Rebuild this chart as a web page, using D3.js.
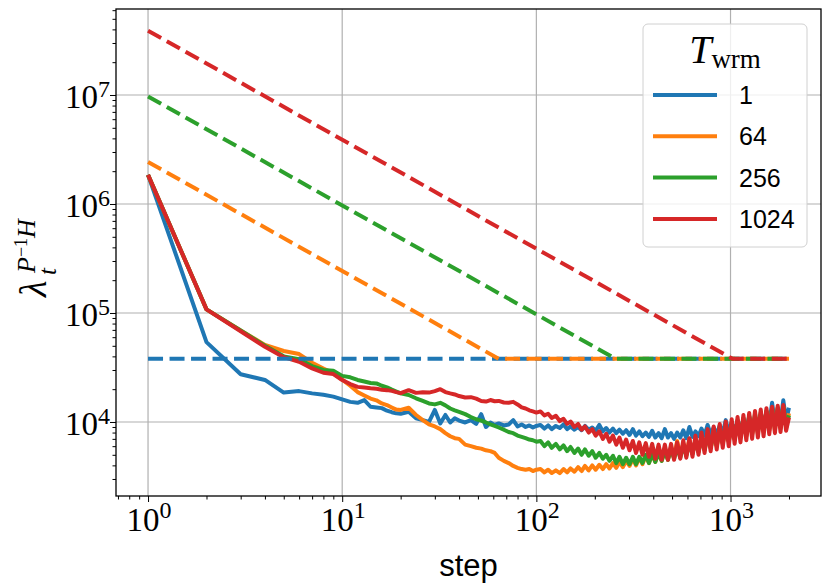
<!DOCTYPE html>
<html>
<head>
<meta charset="utf-8">
<script src="https://cdn.jsdelivr.net/npm/d3@7"></script>
<style>
body { margin: 0; background: #fff; }
</style>
</head>
<body>
<svg id="chart" width="831" height="588"></svg>
<script>
// steps shared by all four runs
var steps = [
  1,2,3,4,5,6,7,8,9,10,
  11,12,13,14,15,16,17,18,19,20,
  22,24,26,28,30,32,34,36,38,40,
  43,46,49,52,55,58,61,64,68,72,
  76,80,84,88,92,96,100,
  105,110,115,120,126,132,138,144,150,157,
  164,171,178,186,194,202,211,220,229,238,
  248,258,268,279,290,302,314,326,339,352,
  366,380,395,410,426,442,459,476,494,512,
  531,551,571,592,614,637,660,684,709,735,
  762,790,819,849,880,912,945,979,1014,1050,
  1087,1125,1165,1206,1248,1292,1337,1383,1431,1480,
  1531,1583,1637,1693,1750,1809,1870,1933,2000
];

var warmups = ["1", "64", "256", "1024"];

var lam_w1 = [
  1850000,54000,27400,24300,18600,19200,18300,17800,17100,16100,
  15300,15000,15900,13800,13600,13400,12700,12300,12000,11900,
  12400,10800,10400,10000,12900,9700,11600,9900,10800,10300,
  9900,10400,9600,11800,9000,9900,9400,9700,9300,9500,
  10400,9100,9500,9000,9300,8900,9200,
  9400,8700,9300,8600,9200,8800,9500,8600,9100,8500,
  9000,8400,9200,8500,8900,8300,9400,8200,8800,8000,
  8700,7900,8500,7800,8400,7600,8600,7500,8200,7400,
  8000,7300,8300,7200,7900,7100,8600,7200,7900,7000,
  8000,7200,8400,7100,9000,7300,8200,7400,8700,7500,
  9400,7700,8900,7700,9300,7900,10400,8100,9800,8200,
  10200,8400,10600,8600,11200,8800,11000,9000,11800,9300,
  12300,9500,15000,9800,12800,10000,15800,10300,13500
];

var lam_w64 = [
  1850000,108000,69000,51000,44800,42000,35000,31000,28000,24500,
  21500,18800,17500,16400,15800,14800,14300,13600,13000,12900,
  13500,11600,10400,9500,9100,8600,7900,7400,7100,7000,
  6200,6000,5800,5700,5500,5400,5200,4700,4400,4200,
  3950,3800,3700,3650,3700,3550,3650,
  3700,3450,3650,3400,3600,3400,3700,3450,3750,3500,
  3850,3550,3950,3600,4000,3650,4050,3700,4100,3750,
  4200,3800,4300,3850,4400,3950,4600,4000,4700,4100,
  4900,4200,5000,4300,5200,4400,5500,4500,5900,4700,
  6700,4900,6300,5000,7000,5200,6500,5400,6900,5600,
  7300,5800,7600,6000,8000,6300,8600,6600,9200,6900,
  9700,7200,10200,7400,10800,7700,11300,7900,11800,8100,
  12500,8300,13000,8500,13400,8700,13800,8900,12000
];

var lam_w256 = [
  1850000,108000,69000,50000,40000,37600,32600,30000,29600,26500,
  25700,24300,23500,22800,22600,21500,20800,19800,19000,18300,
  17700,16500,15600,14800,14500,15000,14200,13300,12800,12400,
  11800,11100,10600,10300,9900,9500,9200,8900,8500,8100,
  7900,7500,7300,7100,6900,6800,6600,
  6700,6000,6500,5800,6300,5600,6100,5400,5900,5200,
  5700,5000,5600,4900,5400,4700,5200,4600,5000,4400,
  4900,4200,4800,4100,4700,4100,4800,4100,4800,4200,
  5000,4200,5100,4300,5200,4400,5400,4500,5600,4600,
  5800,4700,6100,4900,6400,5100,6800,5300,7300,5500,
  7800,5800,8300,6100,8900,6400,9400,6700,9900,7000,
  10400,7300,10900,7600,11400,7900,11800,8200,12300,8400,
  12700,8700,13100,8900,13500,9100,13900,9300,11500
];

var lam_w1024 = [
  1850000,108000,68000,49000,39300,35700,31000,28300,27500,24300,
  22300,21000,20700,20400,20200,19800,19600,19300,18800,18400,
  19600,18500,18700,18600,19200,20000,18800,18300,17900,17300,
  16800,16900,16400,15600,15400,15900,15500,15600,15100,15000,
  15300,14500,13600,13300,12800,12500,12200,
  12500,11500,11900,10900,11400,10200,10700,9600,10100,9000,
  9600,8500,9100,8000,8600,7500,8200,7000,7800,6600,
  7500,6200,7200,5800,6900,5500,6700,5200,6500,5000,
  6400,4800,6300,4600,6200,4500,6200,4500,6300,4500,
  6500,4600,6800,4700,7100,4800,7500,5000,8000,5200,
  8600,5400,9100,5600,9600,5800,10100,6000,10600,6300,
  11100,6500,11600,6800,12100,7000,12600,7200,13000,7400,
  13400,7700,13800,7900,14100,8100,14300,8300,11000
];

// dashed reference lines (one per warmup)
var refSteps = [[1, 2000], [1, 64, 2000], [1, 256, 2000], [1, 1024, 2000]];
var refValues = [
  [38000, 38000],
  [2430000, 38000, 38000],
  [9700000, 38000, 38000],
  [38900000, 38000, 38000]
];

var xTicks = [1, 10, 100, 1000];
var xTickExp = ["0", "1", "2", "3"];
var yTicks = [1e4, 1e5, 1e6, 1e7];
var yTickExp = ["4", "5", "6", "7"];

var colors = ["#1f77b4", "#ff7f0e", "#2ca02c", "#d62728"];
var runs = [lam_w1, lam_w64, lam_w256, lam_w1024];

// LAYOUT
var pL = 116, pR = 821, pT = 9, pB = 496;
var svg = d3.select("#chart");

var x = d3.scaleLog()
  .domain([Math.pow(10, -0.165), Math.pow(10, 3.466)])
  .range([pL, pR]);
var y = d3.scaleLog()
  .domain([Math.pow(10, 3.321), Math.pow(10, 7.789)])
  .range([pB, pT]);

// GRID
svg.append("g").selectAll("line").data(xTicks).enter().append("line")
  .attr("x1", d => x(d)).attr("x2", d => x(d))
  .attr("y1", pT).attr("y2", pB)
  .attr("stroke", "#b0b0b0").attr("stroke-width", 1.2);
svg.append("g").selectAll("line").data(yTicks).enter().append("line")
  .attr("x1", pL).attr("x2", pR)
  .attr("y1", d => y(d)).attr("y2", d => y(d))
  .attr("stroke", "#b0b0b0").attr("stroke-width", 1.2);

// LINES
svg.append("clipPath").attr("id", "clip").append("rect")
  .attr("x", pL).attr("y", pT).attr("width", pR - pL).attr("height", pB - pT);
var plot = svg.append("g").attr("clip-path", "url(#clip)");

var line = d3.line()
  .x(d => x(d[0]))
  .y(d => y(d[1]));

runs.forEach(function (vals, i) {
  plot.append("path")
    .datum(steps.map((s, j) => [s, vals[j]]))
    .attr("fill", "none")
    .attr("stroke", colors[i])
    .attr("stroke-width", 4)
    .attr("stroke-linejoin", "round")
    .attr("d", line);
});

refSteps.forEach(function (st, i) {
  plot.append("path")
    .datum(st.map((s, j) => [s, refValues[i][j]]))
    .attr("fill", "none")
    .attr("stroke", colors[i])
    .attr("stroke-width", 4)
    .attr("stroke-dasharray", "15 6.5")
    .attr("d", line);
});

// AXES
var minorX = x.ticks().filter(d => xTicks.indexOf(d) < 0);
var minorY = y.ticks().filter(d => yTicks.indexOf(d) < 0);

svg.append("g").attr("transform", "translate(0," + pB + ")")
  .call(d3.axisBottom(x).tickValues(minorX).tickSize(3.5).tickFormat(""))
  .call(g => g.select(".domain").remove());
svg.append("g").attr("transform", "translate(0," + pB + ")")
  .call(d3.axisBottom(x).tickValues(xTicks).tickSize(6).tickFormat(""))
  .call(g => g.select(".domain").remove());
svg.append("g").attr("transform", "translate(" + pL + ",0)")
  .call(d3.axisLeft(y).tickValues(minorY).tickSize(3.5).tickFormat(""))
  .call(g => g.select(".domain").remove());
svg.append("g").attr("transform", "translate(" + pL + ",0)")
  .call(d3.axisLeft(y).tickValues(yTicks).tickSize(6).tickFormat(""))
  .call(g => g.select(".domain").remove());
svg.selectAll(".tick line").attr("stroke", "#000").attr("stroke-width", 1);

svg.append("rect")
  .attr("x", pL).attr("y", pT)
  .attr("width", pR - pL).attr("height", pB - pT)
  .attr("fill", "none").attr("stroke", "#000").attr("stroke-width", 1.3);

// tick labels 10^k
xTicks.forEach(function (t, i) {
  var tx = svg.append("text")
    .attr("x", x(t) + 1).attr("y", 531)
    .attr("text-anchor", "middle")
    .attr("font-family", "Liberation Serif, serif")
    .attr("font-size", 33)
    .text("10");
  tx.append("tspan").attr("dy", -13).attr("font-size", 24).text(xTickExp[i]);
});
yTicks.forEach(function (t, i) {
  var ty = svg.append("text")
    .attr("x", 110).attr("y", y(t) + 13)
    .attr("text-anchor", "end")
    .attr("font-family", "Liberation Serif, serif")
    .attr("font-size", 33)
    .text("10");
  ty.append("tspan").attr("dy", -11).attr("font-size", 24).text(yTickExp[i]);
});

// AXIS LABELS
svg.append("text")
  .attr("x", (pL + pR) / 2).attr("y", 576)
  .attr("text-anchor", "middle")
  .attr("font-family", "Liberation Sans, sans-serif")
  .attr("font-size", 31)
  .text("step");

var yl = svg.append("text")
  .attr("transform", "translate(46,297) rotate(-90)")
  .attr("font-family", "Liberation Serif, serif")
  .attr("font-style", "italic");
yl.append("tspan").attr("font-size", 38).text("λ");
yl.append("tspan").attr("x", 22).attr("dy", 10).attr("font-size", 25).text("t");
yl.append("tspan").attr("x", 24).attr("dy", -21).attr("font-size", 26).text("P");
yl.append("tspan").attr("dy", -8).attr("font-size", 18).attr("font-style", "normal").text("−1");
yl.append("tspan").attr("dy", 8).attr("font-size", 26).text("H");

// LEGEND
var lg = svg.append("g");
lg.append("rect")
  .attr("x", 643).attr("y", 24).attr("width", 164).attr("height", 223)
  .attr("rx", 5)
  .attr("fill", "#fff").attr("fill-opacity", 0.8)
  .attr("stroke", "#d0d0d0").attr("stroke-width", 1);
var title = lg.append("text")
  .attr("x", 725).attr("y", 63)
  .attr("text-anchor", "middle")
  .attr("font-family", "Liberation Serif, serif");
title.append("tspan").attr("font-size", 40).attr("font-style", "italic").text("T");
title.append("tspan").attr("dy", 5).attr("font-size", 27).text("wrm");

warmups.forEach(function (w, i) {
  var ly = 95 + i * 41.3;
  lg.append("line")
    .attr("x1", 653).attr("x2", 717).attr("y1", ly).attr("y2", ly)
    .attr("stroke", colors[i]).attr("stroke-width", 4);
  lg.append("text")
    .attr("x", 739).attr("y", ly + 9)
    .attr("font-family", "Liberation Sans, sans-serif")
    .attr("font-size", 25)
    .text(w);
});
</script>
</body>
</html>
